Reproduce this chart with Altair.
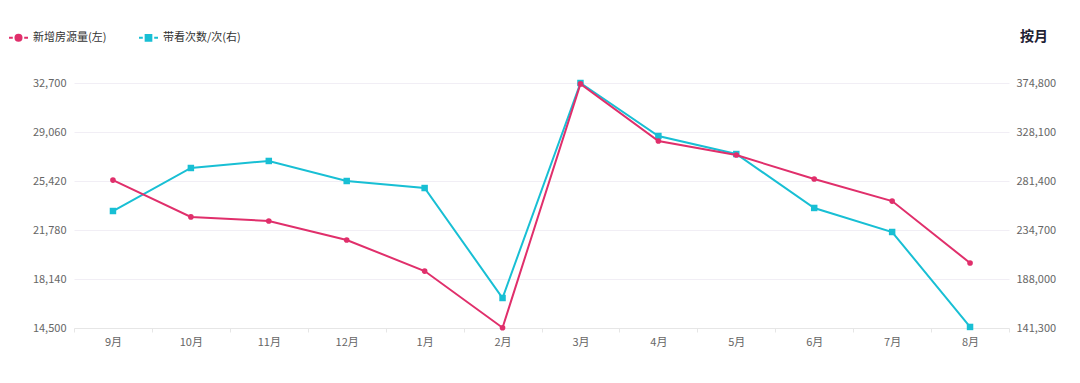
import altair as alt
import pandas as pd

months = ["9月", "10月", "11月", "12月", "1月", "2月", "3月", "4月", "5月", "6月", "7月", "8月"]
listings = [25490, 22750, 22450, 21040, 18730, 14520, 32630, 28390, 27350, 25570, 23930, 19330]
viewings = [252800, 293800, 300500, 281400, 274700, 169900, 374800, 324300, 307100, 255700, 232800, 142300]

series_names = ["新增房源量(左)", "带看次数/次(右)"]
series_colors = ["#e02f6b", "#18bfd4"]
left_ticks = [14500, 18140, 21780, 25420, 29060, 32700]
right_ticks = [141300, 188000, 234700, 281400, 328100, 374800]

FONT = "Noto Sans CJK SC"

df = pd.DataFrame({
    "month": months * 2,
    "series": [series_names[0]] * 12 + [series_names[1]] * 12,
    "value": listings + viewings,
})

x_enc = alt.X(
    "month:N", sort=months, title=None,
    scale=alt.Scale(paddingInner=0, paddingOuter=0),
    axis=alt.Axis(labelAngle=0, tickBand="extent", domainColor="#e6e6e6",
                  tickColor="#e6e6e6", tickSize=4, labelPadding=4,
                  labelColor="#666666", labelFontSize=11, labelFont=FONT, grid=False),
)

base = alt.Chart(df)

cyan = base.transform_filter(alt.datum.series == series_names[1]).mark_line(
    color=series_colors[1], strokeWidth=2,
    point=alt.OverlayMarkDef(shape="square", size=42, filled=True, color=series_colors[1], opacity=1),
).encode(
    x=x_enc,
    y=alt.Y("value:Q", title=None,
            scale=alt.Scale(domain=[141300, 374800], nice=False, zero=False),
            axis=alt.Axis(orient="right", values=right_ticks, format=",d", grid=False,
                          domain=False, ticks=False, labelPadding=7,
                          labelColor="#666666", labelFontSize=11, labelFont=FONT)),
)

red = base.transform_filter(alt.datum.series == series_names[0]).mark_line(
    color=series_colors[0], strokeWidth=2,
    point=alt.OverlayMarkDef(shape="circle", size=32, filled=True, color=series_colors[0], opacity=1),
).encode(
    x=x_enc,
    y=alt.Y("value:Q", title=None,
            scale=alt.Scale(domain=[14500, 32700], nice=False, zero=False),
            axis=alt.Axis(orient="left", values=left_ticks, format=",d", grid=True,
                          gridColor="#f1eef5", domain=False, ticks=False, labelPadding=8,
                          labelColor="#666666", labelFontSize=11, labelFont=FONT)),
)

circle_path = "M-1,0H-0.6M0.6,0H1M-0.32,0A0.32,0.32 0 1,0 0.32,0A0.32,0.32 0 1,0 -0.32,0Z"
square_path = "M-1,0H-0.6M0.6,0H1M-0.3,-0.3H0.3V0.3H-0.3Z"

legend_layer = base.transform_filter("datum.value < -1e12").mark_point(strokeWidth=2, opacity=1).encode(
    x=x_enc,
    fill=alt.Fill("series:N", title=None,
                  scale=alt.Scale(domain=series_names, range=series_colors)),
    stroke=alt.Stroke("series:N", title=None,
                      scale=alt.Scale(domain=series_names, range=series_colors)),
    shape=alt.Shape("series:N", title=None,
                    scale=alt.Scale(domain=series_names, range=[circle_path, square_path])),
)

chart = alt.layer(cyan, red, legend_layer).resolve_scale(y="independent").properties(
    width=935, height=245,
    autosize=alt.AutoSizeParams(type="none"),
    padding={"left": 66, "top": 75, "right": 60, "bottom": 40},
    title=alt.TitleParams("按月", anchor="end", frame="group", dx=39, offset=-28,
                          fontSize=14, fontWeight="bold", color="#1f2233", font=FONT,
                          baseline="alphabetic"),
).configure_view(stroke=None).configure_legend(
    orient="none", legendX=-66, legendY=-56, direction="horizontal",
    symbolSize=361, symbolStrokeWidth=2, symbolOpacity=1, labelFont=FONT, labelFontSize=11,
    labelColor="#333333", columnPadding=28, labelOffset=4,
)

chart.save("out.html", embed_options={"renderer": "svg", "actions": False})
